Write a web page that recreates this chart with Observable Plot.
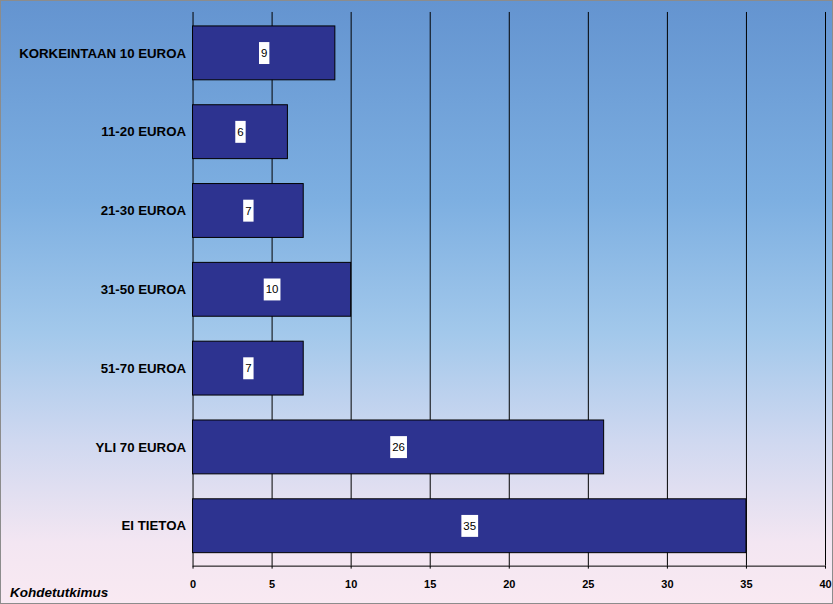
<!DOCTYPE html>
<html>
<head>
<meta charset="utf-8">
<script src="https://cdn.jsdelivr.net/npm/d3@7"></script>
<script src="https://cdn.jsdelivr.net/npm/@observablehq/plot@0.6"></script>
<style>
  html, body { margin: 0; padding: 0; background: #fff; }
  #chart {
    position: relative;
    width: 833px; height: 604px; box-sizing: border-box;
    border: 1px solid #8c8c8c;
    background: linear-gradient(to bottom, #6494d0 0%, #7dafe1 33%, #a2c8eb 55%, #cfd8f0 73%, #f3e6f2 90%, #f9e9f2 100%);
    overflow: hidden;
  }
  #chart svg { position: absolute; left: -1px; top: -1px; }
  #caption {
    position: absolute; left: 9px; top: 584px;
    font: italic bold 13.5px "Liberation Sans", Arial, sans-serif; color: #000;
  }
</style>
</head>
<body>
<div id="chart"><div id="caption">Kohdetutkimus</div></div>
<script>
const categories = ["KORKEINTAAN 10 EUROA", "11-20 EUROA", "21-30 EUROA", "31-50 EUROA", "51-70 EUROA", "YLI 70 EUROA", "EI TIETOA"];
const values = [9, 6, 7, 10, 7, 26, 35];
const xTicks = [0, 5, 10, 15, 20, 25, 30, 35, 40];

const data = categories.map((c, i) => ({category: c, value: values[i]}));

const plot = Plot.plot({
  width: 833,
  height: 604,
  marginLeft: 193,
  marginRight: 6,
  marginTop: 12,
  marginBottom: 37,
  style: {background: "transparent", fontFamily: "'Liberation Sans', Arial, sans-serif", overflow: "visible"},
  x: {domain: [0, 40], ticks: xTicks, label: null},
  y: {domain: categories, paddingInner: 0.32, paddingOuter: 0.16, label: null},
  marks: [
    Plot.ruleX(xTicks, {stroke: "#000", strokeWidth: 1, strokeOpacity: 1}),
    Plot.barX(data, {y: "category", x: "value", fill: "#2d3390", stroke: "#000", strokeWidth: 1}),
    Plot.axisX({ticks: xTicks, tickSize: 3, tickPadding: 11, fontWeight: "bold", stroke: "#000", fill: "#000", label: null, className: "xax"}),
    Plot.axisY({tickSize: 0, tickPadding: 7, fontWeight: "bold", fill: "#000", label: null, className: "yax"}),
    Plot.text(data, {y: "category", x: d => d.value / 2, text: d => String(d.value), fontSize: 11.5, fill: "#000", className: "vlabel"})
  ]
});

document.getElementById("chart").appendChild(plot);

const svg = d3.select(plot);
svg.selectAll("g.xax text").attr("font-size", "11px").style("font-size", "11px");
svg.selectAll("g.yax text").attr("font-size", "13.3px").style("font-size", "13.3px");

// bottom axis line
const xs = plot.scale("x");
svg.append("line")
  .attr("x1", xs.apply(0)).attr("x2", xs.apply(40))
  .attr("y1", 567.5).attr("y2", 567.5)
  .attr("stroke", "#000");

// white boxes behind value labels
svg.selectAll("g.vlabel text").each(function() {
  const b = this.getBBox();
  const g = this.parentNode;
  const r = document.createElementNS("http://www.w3.org/2000/svg", "rect");
  r.setAttribute("x", b.x - 2);
  r.setAttribute("width", b.width + 4);
  r.setAttribute("y", b.y + b.height / 2 - 11);
  r.setAttribute("height", 22);
  r.setAttribute("fill", "#fff");
  const t = this.getAttribute("transform");
  if (t) r.setAttribute("transform", t);
  g.insertBefore(r, this);
});
</script>
</body>
</html>
